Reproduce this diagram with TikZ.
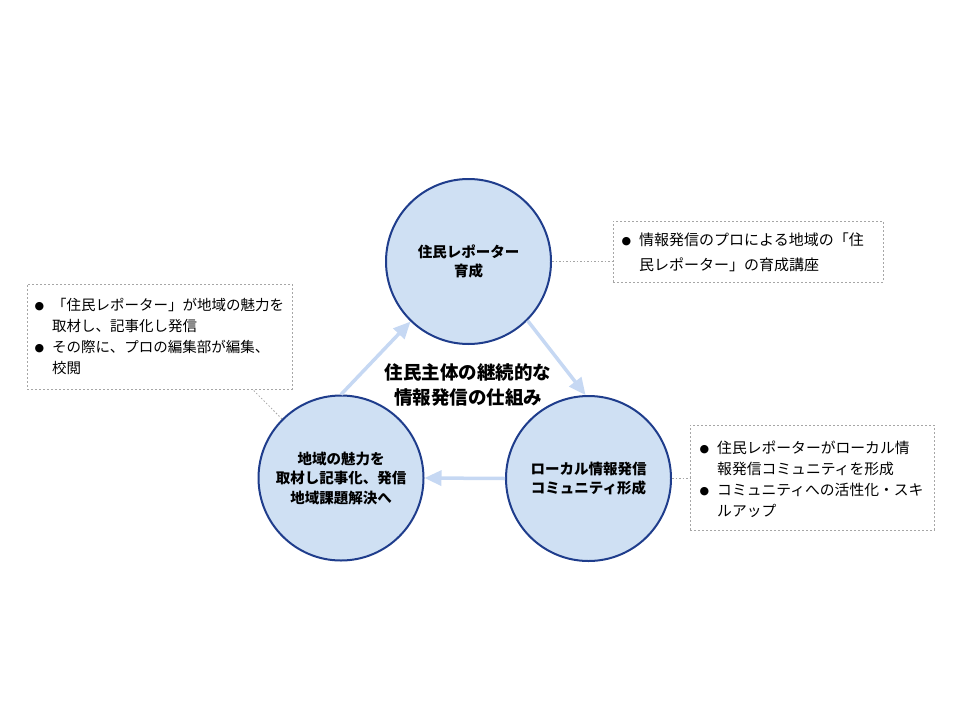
\documentclass[tikz,border=0pt]{standalone}
\usepackage{fontspec}
\setmainfont{Noto Sans CJK JP}
\newfontfamily\dejavu{DejaVu Sans}
\usetikzlibrary{arrows.meta}
\definecolor{cfill}{HTML}{CFE0F3}
\definecolor{cline}{HTML}{1F3D8C}
\definecolor{arr}{HTML}{C6D8F3}
\definecolor{dgray}{HTML}{A6A6A6}
\newcommand{\bul}{\raisebox{1.5pt}{\dejavu\fontsize{11}{11}\selectfont ●}}
\begin{document}
\begin{tikzpicture}[x=1pt,y=-1pt,
  stage/.style={circle, draw=cline, line width=2pt, fill=cfill, minimum size=165pt, inner sep=0pt, align=center, font=\bfseries\fontsize{14.5}{19.5}\selectfont},
  flow/.style={draw=arr, line width=3.5pt, -{Triangle[length=17pt,width=15pt]}},
  notebox/.style={draw=dgray, line width=0.8pt, dash pattern=on 2pt off 2pt, inner sep=0pt},
  conn/.style={draw=dgray, line width=0.8pt, dash pattern=on 1.5pt off 2pt},
  notetext/.style={anchor=north west, inner sep=0pt, font=\fontsize{14.5}{21}\selectfont}]
\useasboundingbox (0,0) rectangle (960,720);

% circles
\node[stage] (tc) at (468.5,261.5) {住民レポーター\\育成};
\node[stage] (lc) at (341,478) {地域の魅力を\\取材し記事化、発信\\地域課題解決へ};
\node[stage] (rc) at (588.5,478.5) {ローカル情報発信\\コミュニティ形成};

% centre title
\node[font=\bfseries\fontsize{18.5}{25}\selectfont, align=center] (title) at (468,385) {住民主体の継続的な\\情報発信の仕組み};

% flow arrows
\draw[flow] (lc.90) -- (tc.226);
\draw[flow] (tc.315) -- (rc.92);
\draw[flow] (rc.180) -- (lc.0);

% note boxes
\node[notebox, minimum width=270pt, minimum height=61pt] (tb) at (748,251.5) {};
\node[notebox, minimum width=265pt, minimum height=105pt] (lb) at (159.5,336.5) {};
\node[notebox, minimum width=244pt, minimum height=105pt] (rb) at (812,477.5) {};

\node[notetext, font=\fontsize{15}{25}\selectfont] (tbt) at (621.5,228) {\begin{tabular}{@{}p{17.5pt}@{}l@{}}\bul & 情報発信のプロによる地域の「住\\ & 民レポーター」の育成講座\end{tabular}};
\node[notetext] (lbt) at (34.5,296) {\begin{tabular}{@{}p{17.5pt}@{}l@{}}\bul & 「住民レポーター」が地域の魅力を\\ & 取材し、記事化し発信\\ \bul & その際に、プロの編集部が編集、\\ & 校閲\end{tabular}};
\node[notetext, font=\fontsize{14.8}{21}\selectfont] (rbt) at (699.5,439) {\begin{tabular}{@{}p{17.5pt}@{}l@{}}\bul & 住民レポーターがローカル情\\ & 報発信コミュニティを形成\\ \bul & コミュニティへの活性化・スキ\\ & ルアップ\end{tabular}};

% connectors
\draw[conn] (tc.0) -- (tc.0 -| tb.west);
\draw[conn] (lc.135) -- ([xshift=226pt]lb.south west);
\draw[conn] (rc.0) -- (rc.0 -| rb.west);
\end{tikzpicture}
\end{document}
